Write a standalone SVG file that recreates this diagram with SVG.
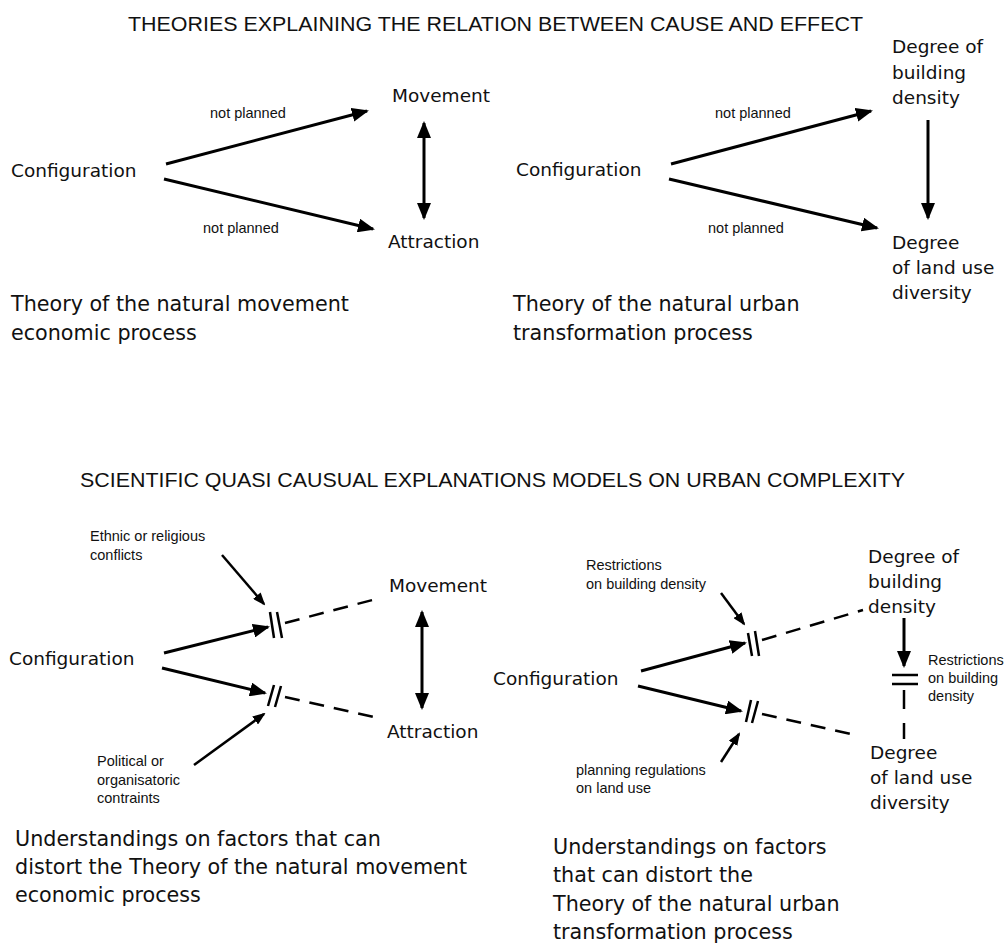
<svg xmlns="http://www.w3.org/2000/svg" width="1005" height="945" viewBox="0 0 1005 945">
<style>
.title{font-family:"Liberation Sans",Arial,sans-serif;font-size:20.5px;fill:#111}
.big{font-family:"DejaVu Sans",Verdana,sans-serif;font-size:18.5px;fill:#111}
.cap{font-family:"DejaVu Sans",Verdana,sans-serif;font-size:20.7px;fill:#111}
.sm{font-family:"Liberation Sans",Arial,sans-serif;font-size:14.5px;fill:#111}
.a{stroke:#000;stroke-width:3;fill:none;marker-end:url(#ah)}
.a2{stroke:#000;stroke-width:3;fill:none;marker-end:url(#ah);marker-start:url(#ah)}
.s{stroke:#000;stroke-width:2.5;fill:none;marker-end:url(#ahs)}
.d{stroke:#000;stroke-width:2.5;fill:none;stroke-dasharray:15 10}
.b{stroke:#000;stroke-width:2.5;fill:none}
</style>
<defs>
<marker id="ah" markerUnits="userSpaceOnUse" viewBox="0 0 17 14" markerWidth="17" markerHeight="14" refX="15" refY="7" orient="auto-start-reverse"><path d="M0,0 L17,7 L0,14 z" fill="#000"/></marker>
<marker id="ahs" markerUnits="userSpaceOnUse" viewBox="0 0 13 10" markerWidth="13" markerHeight="10" refX="11" refY="5" orient="auto"><path d="M0,0 L13,5 L0,10 z" fill="#000"/></marker>
</defs>
<rect width="1005" height="945" fill="#fff"/>

<g id="title-top"><text class="title" x="128" y="31" textLength="735" lengthAdjust="spacingAndGlyphs">THEORIES EXPLAINING THE RELATION BETWEEN CAUSE AND EFFECT</text></g>
<g id="title-bottom"><text class="title" x="80" y="487" textLength="825" lengthAdjust="spacingAndGlyphs">SCIENTIFIC QUASI CAUSUAL EXPLANATIONS MODELS ON URBAN COMPLEXITY</text></g>

<!-- top left -->
<g id="tl-configuration"><text class="big" x="11" y="177">Configuration</text></g>
<g id="tl-movement"><text class="big" x="392" y="102">Movement</text></g>
<g id="tl-attraction"><text class="big" x="388" y="248">Attraction</text></g>
<g id="tl-caption"><text class="cap" x="11" y="311">Theory of the natural movement</text><text class="cap" x="11" y="340">economic process</text></g>

<!-- top right -->
<g id="tr-configuration"><text class="big" x="516" y="176">Configuration</text></g>
<g id="tr-density"><text class="big" x="892" y="53">Degree of</text><text class="big" x="892" y="79">building</text><text class="big" x="892" y="104">density</text></g>
<g id="tr-diversity"><text class="big" x="892" y="249">Degree</text><text class="big" x="892" y="274">of land use</text><text class="big" x="892" y="299">diversity</text></g>
<g id="tr-caption"><text class="cap" x="513" y="311">Theory of the natural urban</text><text class="cap" x="513" y="340">transformation process</text></g>

<!-- bottom left -->
<g id="bl-ethnic"><text class="sm" x="90" y="541">Ethnic or religious</text><text class="sm" x="90" y="560">conflicts</text></g>
<g id="bl-movement"><text class="big" x="389" y="592">Movement</text></g>
<g id="bl-configuration"><text class="big" x="9" y="665">Configuration</text></g>
<g id="bl-attraction"><text class="big" x="387" y="738">Attraction</text></g>
<g id="bl-political"><text class="sm" x="97" y="766">Political or</text><text class="sm" x="97" y="785">organisatoric</text><text class="sm" x="97" y="803">contraints</text></g>
<g id="bl-caption"><text class="cap" x="15" y="846">Understandings on factors that can</text><text class="cap" x="15" y="874">distort the Theory of the natural movement</text><text class="cap" x="15" y="902">economic process</text></g>

<!-- bottom right -->
<g id="br-restr1"><text class="sm" x="586" y="570">Restrictions</text><text class="sm" x="586" y="589">on building density</text></g>
<g id="br-density"><text class="big" x="868" y="563">Degree of</text><text class="big" x="868" y="588">building</text><text class="big" x="868" y="613">density</text></g>
<g id="br-configuration"><text class="big" x="493" y="685">Configuration</text></g>
<g id="br-restr2"><text class="sm" x="928" y="665">Restrictions</text><text class="sm" x="928" y="683">on building</text><text class="sm" x="928" y="701">density</text></g>
<g id="br-planning"><text class="sm" x="576" y="775">planning regulations</text><text class="sm" x="576" y="793">on land use</text></g>
<g id="br-diversity"><text class="big" x="870" y="759">Degree</text><text class="big" x="870" y="784">of land use</text><text class="big" x="870" y="809">diversity</text></g>
<g id="br-caption"><text class="cap" x="553" y="854">Understandings on factors</text><text class="cap" x="553" y="882">that can distort the</text><text class="cap" x="553" y="911">Theory of the natural urban</text><text class="cap" x="553" y="939">transformation process</text></g>

<g id="connectors">
<!-- top left -->
<line class="a" x1="166" y1="164" x2="367" y2="111"/>
<text class="sm" x="210" y="118">not planned</text>
<line class="a" x1="164" y1="179" x2="373" y2="229"/>
<text class="sm" x="203" y="233">not planned</text>
<line class="a2" x1="424" y1="123" x2="424" y2="218"/>
<!-- top right -->
<line class="a" x1="671" y1="164" x2="871" y2="111"/>
<text class="sm" x="715" y="118">not planned</text>
<line class="a" x1="669" y1="179" x2="877" y2="228"/>
<text class="sm" x="708" y="233">not planned</text>
<line class="a" x1="928" y1="120" x2="928" y2="218"/>
<!-- bottom left -->
<line class="s" x1="222" y1="555" x2="264" y2="604"/>
<line class="a" x1="164" y1="653" x2="268" y2="627"/>
<line class="b" x1="270" y1="612" x2="274" y2="638"/>
<line class="b" x1="277" y1="612" x2="282" y2="638"/>
<line class="d" x1="285" y1="623" x2="380" y2="598"/>
<line class="a2" x1="422" y1="612" x2="422" y2="708"/>
<line class="a" x1="162" y1="668" x2="265" y2="693"/>
<line class="b" x1="268" y1="706" x2="274" y2="685"/>
<line class="b" x1="275" y1="707" x2="281" y2="686"/>
<line class="d" x1="285" y1="697" x2="378" y2="718"/>
<line class="s" x1="194" y1="765" x2="264" y2="714"/>
<!-- bottom right -->
<line class="s" x1="721" y1="593" x2="744" y2="624"/>
<line class="a" x1="641" y1="671" x2="745" y2="643"/>
<line class="b" x1="748" y1="633" x2="752" y2="656"/>
<line class="b" x1="755" y1="631" x2="759" y2="656"/>
<line class="d" x1="762" y1="640" x2="863" y2="610"/>
<line class="a" x1="904" y1="618" x2="904" y2="666"/>
<line class="b" x1="892" y1="675" x2="918" y2="675"/>
<line class="b" x1="892" y1="684" x2="918" y2="684"/>
<line class="b" x1="904" y1="690" x2="904" y2="709"/>
<line class="b" x1="904" y1="723" x2="904" y2="739"/>
<line class="a" x1="638" y1="686" x2="741" y2="711"/>
<line class="b" x1="746" y1="722" x2="751" y2="700"/>
<line class="b" x1="752" y1="723" x2="758" y2="701"/>
<line class="d" x1="762" y1="714" x2="855" y2="735"/>
<line class="s" x1="721" y1="762" x2="739" y2="734"/>
</g>
</svg>
